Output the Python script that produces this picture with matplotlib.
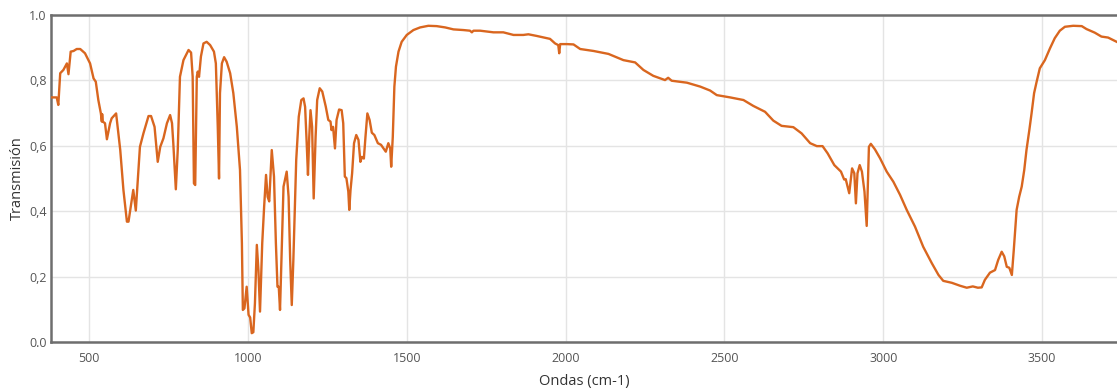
import numpy as np
import matplotlib.pyplot as plt

# IR spectrum: wavenumber (cm-1) and transmission
ondas = [
    382, 398, 403, 409, 419, 430, 435, 442, 451, 461, 472, 487, 503, 514, 521,
    529, 537, 540, 541, 543, 550, 556, 566, 571, 585, 598, 608, 619, 624, 639,
    647, 660, 671, 687, 695, 706, 716, 724, 734, 745, 755, 761, 765, 773, 779,
    786, 797, 813, 821, 826, 830, 834, 839, 842, 846, 852, 860, 870, 881, 893,
    899, 905, 909, 912, 918, 925, 933, 944, 954, 965, 975, 981, 984, 989, 996,
    1002, 1007, 1012, 1017, 1022, 1028, 1033, 1038, 1045, 1051, 1057, 1062,
    1067, 1075, 1082, 1088, 1093, 1097, 1101, 1107, 1112, 1122, 1128, 1133,
    1138, 1143, 1152, 1160, 1168, 1175, 1180, 1185, 1189, 1193, 1197, 1202,
    1207, 1213, 1218, 1226, 1234, 1245, 1253, 1260, 1263, 1268, 1274, 1279,
    1287, 1295, 1300, 1305, 1310, 1316, 1319, 1323, 1328, 1334, 1341, 1348,
    1354, 1359, 1365, 1370, 1376, 1383, 1390, 1398, 1409, 1419, 1434, 1442,
    1448, 1451, 1456, 1461, 1466, 1474, 1484, 1500, 1521, 1542, 1568, 1594,
    1621, 1647, 1678, 1699, 1705, 1710, 1731, 1773, 1804, 1836, 1867, 1883,
    1909, 1951, 1967, 1977, 1980, 1983, 2004, 2025, 2046, 2088, 2135, 2182,
    2219, 2245, 2276, 2313, 2323, 2334, 2382, 2424, 2455, 2476, 2518, 2560,
    2591, 2628, 2654, 2680, 2717, 2743, 2770, 2791, 2809, 2825, 2846, 2867,
    2877, 2882, 2893, 2902, 2909, 2914, 2919, 2926, 2933, 2941, 2948, 2951,
    2955, 2961, 2974, 2990, 3011, 3032, 3053, 3074, 3100, 3126, 3153, 3174,
    3189, 3216, 3242, 3263, 3282, 3298, 3310, 3320, 3336, 3352, 3362, 3373,
    3381, 3389, 3397, 3405, 3411, 3420, 3428, 3436, 3444, 3451, 3460, 3467,
    3475, 3483, 3493, 3509, 3525, 3540, 3556, 3572, 3598, 3625, 3640, 3666,
    3687, 3708, 3735,
]
transmision = [
    0.748, 0.748, 0.725, 0.822, 0.832, 0.852, 0.819, 0.888, 0.890, 0.896,
    0.896, 0.883, 0.852, 0.806, 0.796, 0.740, 0.699, 0.674, 0.697, 0.674,
    0.669, 0.620, 0.669, 0.684, 0.699, 0.587, 0.465, 0.368, 0.368, 0.465,
    0.402, 0.597, 0.638, 0.691, 0.691, 0.658, 0.551, 0.597, 0.623, 0.669,
    0.694, 0.669, 0.608, 0.467, 0.587, 0.811, 0.862, 0.893, 0.885, 0.811,
    0.485, 0.480, 0.811, 0.827, 0.811, 0.873, 0.913, 0.918, 0.908, 0.888,
    0.852, 0.658, 0.500, 0.761, 0.852, 0.871, 0.857, 0.822, 0.761, 0.658,
    0.526, 0.302, 0.098, 0.103, 0.169, 0.083, 0.075, 0.027, 0.030, 0.118,
    0.297, 0.220, 0.093, 0.302, 0.414, 0.511, 0.444, 0.430, 0.587, 0.506,
    0.302, 0.169, 0.169, 0.098, 0.302, 0.475, 0.521, 0.444, 0.251, 0.113,
    0.251, 0.557, 0.689, 0.740, 0.745, 0.719, 0.608, 0.511, 0.627, 0.709,
    0.658, 0.439, 0.627, 0.740, 0.776, 0.766, 0.720, 0.679, 0.674, 0.648,
    0.658, 0.592, 0.679, 0.711, 0.709, 0.669, 0.506, 0.501, 0.460, 0.404,
    0.465, 0.516, 0.608, 0.633, 0.618, 0.551, 0.566, 0.561, 0.627, 0.699,
    0.679, 0.640, 0.633, 0.608, 0.603, 0.582, 0.608, 0.592, 0.536, 0.627,
    0.781, 0.842, 0.888, 0.918, 0.939, 0.954, 0.962, 0.967, 0.966, 0.962,
    0.956, 0.954, 0.952, 0.947, 0.952, 0.952, 0.947, 0.947, 0.939, 0.939,
    0.941, 0.936, 0.927, 0.913, 0.908, 0.883, 0.911, 0.911, 0.910, 0.896,
    0.890, 0.881, 0.862, 0.855, 0.832, 0.814, 0.801, 0.808, 0.799, 0.793,
    0.781, 0.769, 0.755, 0.748, 0.740, 0.722, 0.704, 0.677, 0.661, 0.657,
    0.638, 0.608, 0.599, 0.599, 0.577, 0.541, 0.521, 0.497, 0.498, 0.455,
    0.531, 0.516, 0.424, 0.516, 0.541, 0.521, 0.460, 0.355, 0.460, 0.597,
    0.606, 0.589, 0.562, 0.521, 0.490, 0.450, 0.404, 0.353, 0.291, 0.241,
    0.205, 0.187, 0.181, 0.172, 0.166, 0.170, 0.166, 0.167, 0.190, 0.212,
    0.220, 0.251, 0.276, 0.262, 0.230, 0.227, 0.205, 0.281, 0.404, 0.444,
    0.475, 0.526, 0.587, 0.648, 0.699, 0.761, 0.796, 0.837, 0.862, 0.898,
    0.929, 0.952, 0.964, 0.967, 0.966, 0.957, 0.946, 0.934, 0.931, 0.918,
]

x_ticks = [500, 1000, 1500, 2000, 2500, 3000, 3500]
y_ticks = [0.0, 0.2, 0.4, 0.6, 0.8, 1.0]
y_labels = ['0.0', '0,2', '0,4', '0,6', '0,8', '1.0']

plt.rcParams['font.family'] = ['Open Sans', 'DejaVu Sans']

fig = plt.figure(figsize=(11.17, 3.91), dpi=100)
ax = fig.add_axes([51 / 1117, 1 - 342 / 391, 1 - 51 / 1117, 327 / 391])

ax.plot(ondas, transmision, color='#d9661f', linewidth=1.7, zorder=3)

ax.set_xlim(380, 3736)
ax.set_ylim(0, 1)
ax.set_xticks(x_ticks)
ax.set_yticks(y_ticks)
ax.set_yticklabels(y_labels)
ax.grid(True, color='#e4e4e4', linewidth=1.0, zorder=0)
ax.tick_params(axis='x', length=0, labelsize=9, labelcolor='#555555', pad=7)
ax.tick_params(axis='y', length=0, labelsize=9, labelcolor='#555555', pad=3)

for side in ['left', 'top', 'bottom']:
    ax.spines[side].set_color('#6e6e6e')
    ax.spines[side].set_linewidth(1.8)
ax.spines['right'].set_visible(False)

ax.set_xlabel('Ondas (cm-1)', fontsize=10.5, color='#333333', labelpad=7)
fig.text(17 / 1117, 1 - 178.5 / 391, 'Transmisión', rotation=90,
         ha='center', va='center', fontsize=10.5, color='#333333')

fig.savefig('out.png', dpi=100)
